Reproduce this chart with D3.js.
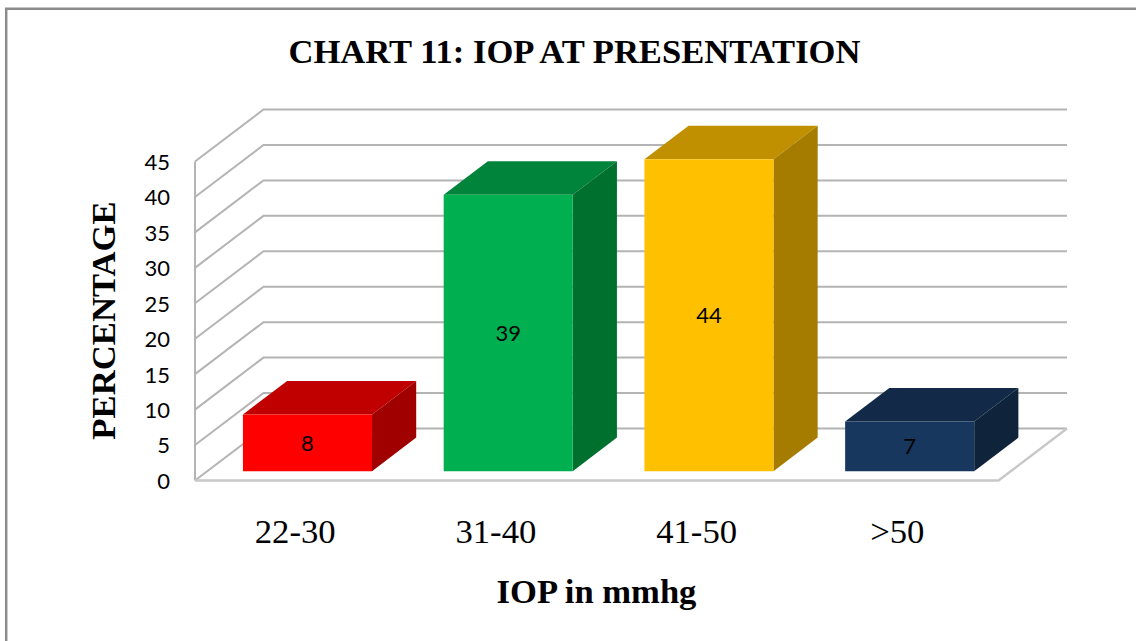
<!DOCTYPE html>
<html>
<head>
<meta charset="utf-8">
<script src="https://cdn.jsdelivr.net/npm/d3@7/dist/d3.min.js"></script>
<style>
  html, body { margin: 0; padding: 0; background: #fff; }
  svg { display: block; }
</style>
</head>
<body>
<svg id="chart" width="1136" height="641"></svg>
<script>
// IOP at presentation, drawn as a 3-D column chart
const categories = ["22-30", "31-40", "41-50", ">50"];
const percentages = [8, 39, 44, 7];
const frontColors = ["#ff0000", "#00b050", "#ffc000", "#17375e"];
const topColors = ["#c00000", "#00843c", "#c09000", "#122a47"];
const sideColors = ["#a00000", "#00702f", "#a67c00", "#0f233b"];
const yTicks = [0, 5, 10, 15, 20, 25, 30, 35, 40, 45];

const svg = d3.select("#chart");
const serif = "'Liberation Serif', serif";
const sans = "Lato, sans-serif";

// Scales for the front wall of the plot box and for the receding depth axis
const x0 = 195, x1 = 998.5;
const x = d3.scaleBand().domain(categories).range([x0 - 0.5, x1 - 0.5]).paddingInner(0.357).paddingOuter(0.18);
const y = d3.scaleLinear().domain([0, 45]).range([480.5, 161.5]);
const depthX = d3.scaleLinear().domain([0, 1]).range([0, 68.5]);
const depthY = d3.scaleLinear().domain([0, 1]).range([0, -52]);
const barFront = 0.18, barBack = 0.825;
const point = (px, py, d) => [px + depthX(d), py + depthY(d)];
const line = d3.line();

// Chart frame: only the top and left edges fall inside the page
svg.append("path")
  .attr("d", "M6.2,641V8.7H1136")
  .attr("fill", "none").attr("stroke", "#8c8c8c").attr("stroke-width", 2.5);

// Gridlines: slanted on the side wall, flat along the back wall
const grid = svg.append("g").attr("fill", "none").attr("stroke", "#b4b4b4").attr("stroke-width", 2);
grid.selectAll("path.wall").data(yTicks).join("path").attr("class", "wall")
  .attr("d", t => line([point(x0, y(t), 0), point(x0, y(t), 1), point(x1, y(t), 1)]));
grid.append("path").attr("d", line([[x0, y(0)], [x0, y(45)]]));
grid.append("path").attr("d", line([[x0, y(0)], [x1, y(0)], point(x1, y(0), 1)]))
  .attr("stroke", "#c8c8c8").attr("stroke-width", 2.5);

// Columns: top, side, then front face
const cols = svg.append("g").selectAll("g").data(percentages).join("g");
const floorY = y(0), inset = barFront;
const corners = (d, i) => {
  const l = x(categories[i]), r = l + x.bandwidth(), t = y(d);
  return { l, r, t };
};
cols.append("path").attr("fill", (d, i) => topColors[i]).attr("d", (d, i) => {
  const c = corners(d, i);
  return line([point(c.l, c.t, inset), point(c.r, c.t, inset), point(c.r, c.t, barBack), point(c.l, c.t, barBack)]) + "Z";
});
cols.append("path").attr("fill", (d, i) => sideColors[i]).attr("d", (d, i) => {
  const c = corners(d, i);
  return line([point(c.r, c.t, inset), point(c.r, c.t, barBack), point(c.r, floorY, barBack), point(c.r, floorY, inset)]) + "Z";
});
cols.append("path").attr("fill", (d, i) => frontColors[i]).attr("d", (d, i) => {
  const c = corners(d, i);
  return line([point(c.l, c.t, inset), point(c.r, c.t, inset), point(c.r, floorY, inset), point(c.l, floorY, inset)]) + "Z";
});
cols.append("text")
  .attr("x", (d, i) => point(x(categories[i]) + x.bandwidth() / 2, 0, inset)[0])
  .attr("y", d => (point(0, y(d), inset)[1] + point(0, floorY, inset)[1]) / 2)
  .attr("dy", "0.36em")
  .attr("text-anchor", "middle")
  .attr("font-family", sans).attr("font-size", 22).attr("fill", "#000")
  .text(d => d);

// Value axis labels
svg.append("g").selectAll("text").data(yTicks).join("text")
  .attr("x", 170).attr("y", t => y(t) + 0.5).attr("dy", "0.36em")
  .attr("text-anchor", "end")
  .attr("font-family", sans).attr("font-size", 22).attr("fill", "#000")
  .text(t => t);

// Category labels
svg.append("g").selectAll("text").data(categories).join("text")
  .attr("x", c => x(c) + x.bandwidth() / 2).attr("y", 543)
  .attr("text-anchor", "middle")
  .attr("font-family", serif).attr("font-size", 34.7).attr("fill", "#000")
  .text(c => c);

// Titles
const bold = (sel, size) => sel.attr("font-family", serif).attr("font-weight", "bold")
  .attr("font-size", size).attr("text-anchor", "middle").attr("fill", "#000");
svg.append("text").call(bold, 34.6).attr("x", 574.5).attr("y", 62.5).text("CHART 11: IOP AT PRESENTATION");
svg.append("text").call(bold, 34.6).attr("x", 596.5).attr("y", 603).text("IOP in mmhg");
svg.append("text").call(bold, 34.7).attr("transform", "translate(115,320.5) rotate(-90)").text("PERCENTAGE");
</script>
</body>
</html>
